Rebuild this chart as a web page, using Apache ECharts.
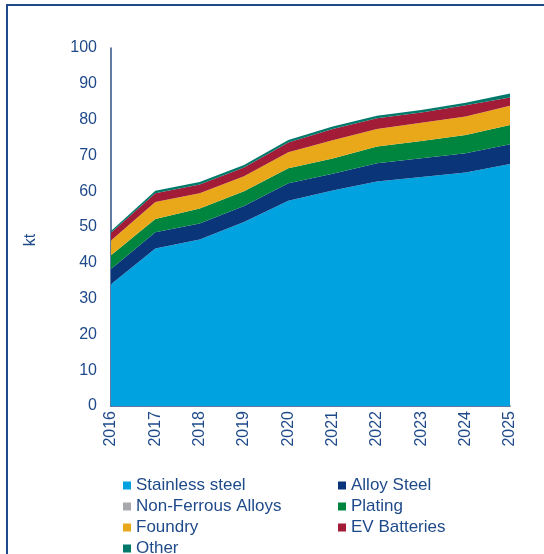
<!DOCTYPE html>
<html>
<head>
<meta charset="utf-8">
<script src="https://cdn.jsdelivr.net/npm/echarts@6/dist/echarts.min.js"></script>
<style>
html,body{margin:0;padding:0;background:#fff;}
#chart{width:544px;height:554px;}
</style>
</head>
<body>
<div id="chart"></div>
<script>
const years = ['2016','2017','2018','2019','2020','2021','2022','2023','2024','2025'];
const stainlessSteel = [34.0, 44.0, 46.5, 51.4, 57.3, 60.2, 62.7, 64.0, 65.2, 67.6];
const alloySteel     = [4.3, 4.5, 4.5, 4.5, 4.9, 4.7, 5.1, 5.2, 5.4, 5.5];
const nonFerrous     = [0, 0, 0, 0, 0, 0, 0, 0, 0, 0];
const plating        = [3.8, 3.7, 4.2, 4.1, 4.2, 4.2, 4.7, 4.8, 5.1, 5.4];
const foundry        = [4.1, 4.8, 4.2, 4.2, 4.5, 5.1, 4.9, 5.1, 5.2, 5.4];
const evBatteries    = [2.2, 2.4, 2.5, 2.4, 2.7, 3.2, 3.0, 2.9, 3.1, 2.3];
const other          = [0.5, 0.7, 0.7, 0.7, 0.7, 0.7, 0.7, 0.7, 0.7, 1.1];
const yTicks = [0, 10, 20, 30, 40, 50, 60, 70, 80, 90, 100];

const names = ['Stainless steel','Alloy Steel','Non-Ferrous Alloys','Plating','Foundry','EV Batteries','Other'];
const colors = ['#00A3E0','#0A3578','#A7A8AC','#00853F','#E9A81A','#A31C37','#00796B'];
const values = [stainlessSteel, alloySteel, nonFerrous, plating, foundry, evBatteries, other];
const textColor = '#1F4A8A';
const font = 'Liberation Sans, Arial, sans-serif';

const chart = echarts.init(document.getElementById('chart'));
const series = names.map((n, i) => ({
  name: n,
  type: 'line',
  stack: 'total',
  data: values[i],
  symbol: 'none',
  lineStyle: { width: 0 },
  areaStyle: { color: colors[i], opacity: 1 },
  itemStyle: { color: colors[i] },
  emphasis: { disabled: true },
  silent: true
}));

chart.setOption({
  animation: false,
  color: colors,
  graphic: [{
    type: 'rect',
    shape: { x: 7, y: 5, width: 700, height: 700 },
    style: { fill: 'none', stroke: '#1F4A8A', lineWidth: 2 },
    silent: true
  }],
  grid: { left: 111, right: 34, top: 48, bottom: 148 },
  legend: {
    orient: 'horizontal',
    left: 118,
    top: 472,
    width: 430,
    itemWidth: 8,
    itemHeight: 8,
    itemGap: 4,
    itemTextGap: 4,
    icon: 'rect',
    selectedMode: false,
    textStyle: { color: textColor, fontSize: 17, fontFamily: font, lineHeight: 16.5, width: 198 },
    data: names
  },
  xAxis: {
    type: 'category',
    data: years,
    boundaryGap: false,
    axisLine: { lineStyle: { color: '#2B4F86', width: 1.5 } },
    axisTick: { show: false },
    axisLabel: { rotate: 90, color: textColor, fontSize: 16, fontFamily: font, margin: 5 }
  },
  yAxis: {
    type: 'value',
    min: 0, max: 100, interval: 10,
    name: 'kt',
    nameLocation: 'middle',
    nameGap: 72,
    nameTextStyle: { color: textColor, fontSize: 16, fontFamily: font, padding: [0, 26, 0, 0] },
    axisLine: { show: true, lineStyle: { color: '#2B4F86', width: 1.5 } },
    axisTick: { show: false },
    splitLine: { show: false },
    axisLabel: { color: textColor, fontSize: 16, fontFamily: font, margin: 14,
      formatter: v => yTicks.includes(v) ? String(v) : '' }
  },
  series: series
});
</script>
</body>
</html>
